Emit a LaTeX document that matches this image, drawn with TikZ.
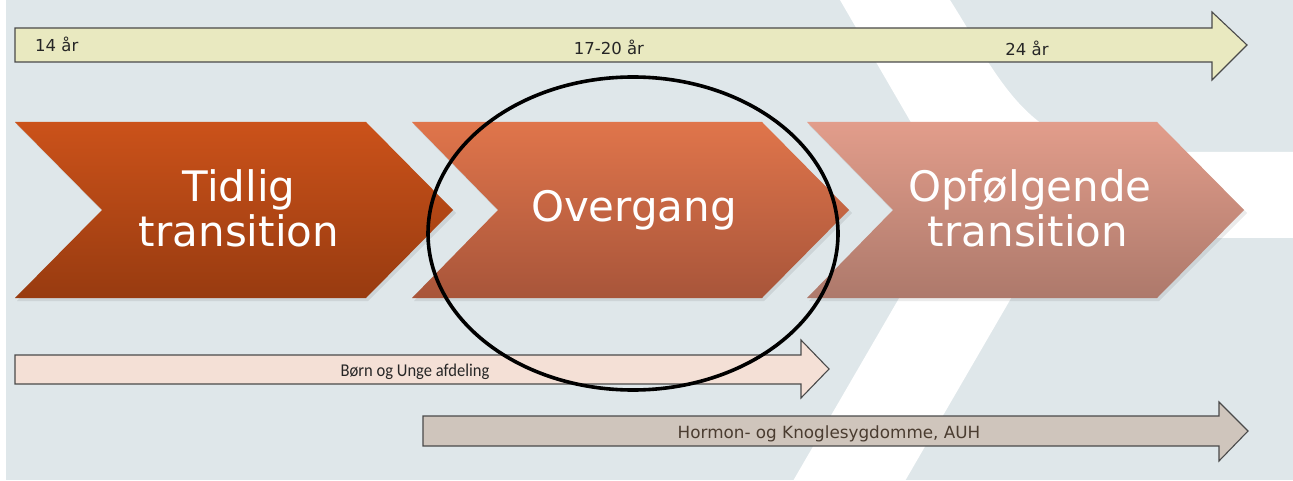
\documentclass[tikz,border=0pt]{standalone}
\usepackage{fontspec}
\setmainfont{DejaVu Sans}
\newfontfamily\narrowfont[FakeStretch=0.92]{Carlito}

\definecolor{bgblue}{HTML}{DFE7EA}
\definecolor{bardraw}{HTML}{4A4A4A}
\definecolor{agefill}{HTML}{E9E9C0}
\definecolor{bufill}{HTML}{F4E0D6}
\definecolor{auhfill}{HTML}{CFC5BC}
\definecolor{auhtext}{HTML}{4A3C30}
\definecolor{tidligtop}{HTML}{CB521A}
\definecolor{tidligbot}{HTML}{983B10}
\definecolor{overtop}{HTML}{E0754B}
\definecolor{overbot}{HTML}{A8553A}
\definecolor{opftop}{HTML}{E29D8B}
\definecolor{opfbot}{HTML}{AD796B}

\tikzset{
  timebar/.style={draw=bardraw, line width=1.1pt, line join=miter},
  chevshadow/.style={fill=black, opacity=.08},
  chevlabel/.style={text=white, font=\fontsize{42}{45}\selectfont, anchor=base, inner sep=0pt},
  agelabel/.style={text=black!85, font=\fontsize{16.5}{18}\selectfont, anchor=base, inner sep=0pt},
}

\begin{document}
\begin{tikzpicture}[x=1pt, y=-1pt]

    \useasboundingbox (0,0) rectangle (1293,481);
    \fill[white] (0,0) rectangle (1293,481);
    \fill[bgblue] (6,0) rectangle (1293,480);

    % white stripes behind everything
    \fill[white] (840,0) -- (950,0) .. controls (985,55) and (1010,110) .. (1060,135)
        .. controls (1090,150) .. (1130,152) -- (1293,152) -- (1293,238) -- (1046,238)
        -- (905,481) -- (793,481) -- (956,200) -- cycle;

    % age bar
    \filldraw[timebar, fill=agefill] (15,28) -- (1212,28) -- (1212,12) -- (1247,45)
        -- (1212,80) -- (1212,62) -- (15,62) -- cycle;
    \node[agelabel, anchor=base west] (age14) at (35,52) {14 år};
    \node[agelabel] (age17) at (609,55) {17-20 år};
    \node[agelabel] (age24) at (1027,56) {24 år};

    % chevrons
    \fill[chevshadow] (17,125) -- (368,125) -- (456,213) -- (368,301) -- (17,301) -- (104,213) -- cycle;
    \fill[chevshadow] (414,125) -- (764,125) -- (852,213) -- (764,301) -- (414,301) -- (500,213) -- cycle;
    \fill[chevshadow] (809,125) -- (1159,125) -- (1247,213) -- (1159,301) -- (809,301) -- (895,213) -- cycle;

    \shade[top color=tidligtop, bottom color=tidligbot]
        (15,122) -- (366,122) -- (453,210) -- (366,298) -- (15,298) -- (102,210) -- cycle;
    \shade[top color=overtop, bottom color=overbot]
        (412,122) -- (762,122) -- (849,210) -- (762,298) -- (412,298) -- (498,210) -- cycle;
    \shade[top color=opftop, bottom color=opfbot]
        (807,122) -- (1157,122) -- (1244,210) -- (1157,298) -- (807,298) -- (893,210) -- cycle;

    \node[chevlabel] (tidlig) at (239,202) {Tidlig};
    \node[chevlabel] (tidligtr) at (239,247) {transition};
    \node[chevlabel] (overgang) at (634,222) {Overgang};
    \node[chevlabel] (opf) at (1030,202) {Opfølgende};
    \node[chevlabel] (opftr) at (1028,247) {transition};

    % department bars
    \filldraw[timebar, fill=bufill] (15,355) -- (801,355) -- (801,340) -- (829,369)
        -- (801,398) -- (801,384) -- (15,384) -- cycle;
    \node[anchor=base, inner sep=0pt, text=black!85, font=\narrowfont\fontsize{18}{20}\selectfont]
        (bu) at (415,376) {Børn og Unge afdeling};

    \filldraw[timebar, fill=auhfill] (423,416) -- (1219,416) -- (1219,402) -- (1248,431)
        -- (1219,461) -- (1219,446) -- (423,446) -- cycle;
    \node[anchor=base, inner sep=0pt, text=auhtext, font=\fontsize{16.8}{19}\selectfont]
        (auh) at (829,438) {Hormon- og Knoglesygdomme, AUH};

    \draw[line width=3.6pt] (633,233.5) ellipse [x radius=205, y radius=156.5];

\end{tikzpicture}
\end{document}
